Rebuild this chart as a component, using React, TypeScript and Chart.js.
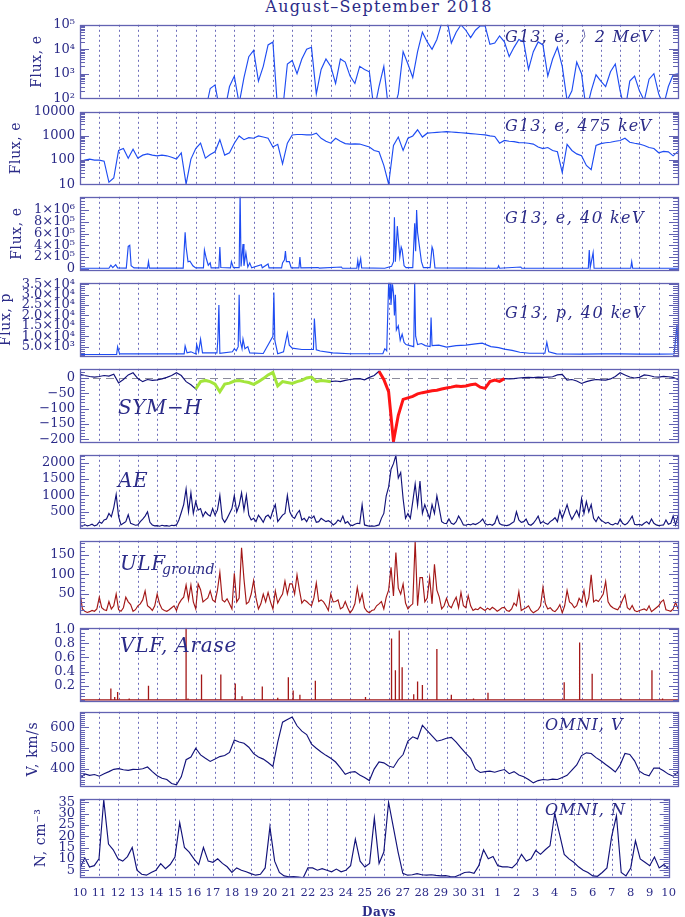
import React, { useEffect, useRef } from "react";
import { Chart, registerables } from "chart.js";

Chart.register(...registerables);

// ---------------- data ----------------
const dayLabels = ["10","11","12","13","14","15","16","17","18","19","20","21","22","23","24","25","26","27","28","29","30","31","1","2","3","4","5","6","7","8","9","10"];
const QUARTER = 0.25; // days between samples
const EIGHTH = 0.125;

// G13 electrons > 2 MeV (6-hour samples), values below 100 fall out of the panel
const mev2Flux = [
  30,30,30,30, 30,30,30,30, 30,30,30,30, 30,30,30,30, 30,30,30,30, 30,30,30,30, 30,30,30,250,
  350,30,30,300, 800,60,700,5000, 9000,500,2000,15000, 20000,30,30,2500, 3500,1000,4000,10000,
  12000,150,1500,4000, 2000,400,4000,3000, 800,400,2000,1500, 1200,30,300,2000, 30,30,150,8000,
  2500,700,8000,50000, 20000,10000,25000,120000, 200000,18000,50000,100000, 60000,30000,60000,90000,
  90000,16000,18000,35000, 20000,5000,12000,25000, 20000,1500,8000,20000, 15000,800,4000,12000,
  2000,80,200,3000, 1000,30,200,900, 500,300,1200,2500, 200,30,500,800, 200,80,600,1000,
  150,50,300,900, 1000
];
// G13 electrons 475 keV
const kev475Flux = [
  85,100,110,100, 100,90,12,18, 250,300,120,280, 120,160,180,160, 150,160,150,130, 110,200,10,110,
  300,500,120,170, 220,700,160,200, 500,1000,700,850, 800,1000,900,800, 350,450,70,500,
  1100,1150,1150,1100, 1100,1300,800,600, 500,800,600,480, 460,470,460,400, 350,250,220,60,
  10,400,900,250, 800,1000,1800,900, 1300,1350,1400,1450, 1500,1450,1400,1350, 1300,1250,1200,1150,
  1100,1000,950,500, 650,600,580,530, 520,500,460,350, 300,330,250,220, 30,450,250,180,
  150,60,40,400, 480,520,550,600, 650,800,550,500, 460,400,330,300, 200,230,220,150, 230
];
// G13 electrons 40 keV (irregular samples)
const e40Days = [0,1.5,1.6,1.7,1.85,1.95,2.4,2.5,2.58,2.65,2.8,3.5,3.55,3.6,5.35,5.45,5.5,5.6,5.7,5.85,6.0,6.4,6.45,6.55,6.65,6.75,6.8,7.2,7.25,7.3,7.8,7.85,7.95,8.25,8.3,8.35,8.45,8.5,8.6,8.7,8.8,8.9,9.4,9.45,9.75,9.8,10.45,10.5,10.6,10.65,10.7,10.85,10.95,11.35,11.4,11.45,12.35,12.4,13.55,13.6,14.35,14.4,14.45,14.55,14.6,15.8,16.15,16.25,16.3,16.35,16.45,16.5,16.58,16.65,16.7,16.8,16.9,17.25,17.35,17.4,17.45,17.5,17.6,17.7,17.8,18.15,18.25,18.3,18.4,21.65,21.7,21.75,22.85,22.9,26.35,26.4,26.45,26.6,26.65,28.55,28.6,28.65,31];
const e40Flux = [8e3,8e3,6e4,2e4,7e4,1.5e4,1e4,3.8e5,4e5,5e4,1.5e4,1e4,1.2e5,1e4,1e4,6.2e5,3.7e5,1.2e5,1.3e5,5e4,1.5e4,1.5e4,3.2e5,1.7e5,6e4,1e5,1.5e4,1.5e4,3.7e5,2e4,1.5e4,1.2e5,2e4,2e4,1.3e6,4e4,4.2e5,5e4,2.7e5,3e4,1e5,1.5e4,7e4,1.5e4,8e4,1.5e4,1.5e4,1e5,1.5e5,3e5,1.2e5,1.2e5,1.5e4,1.5e4,2e5,1.5e4,2e4,1e4,3e4,8e3,8e3,1.4e5,1.5e4,1.75e5,1.5e4,8e3,4e4,1.2e5,8.75e5,1.2e5,7.25e5,5.2e5,2e5,3.7e5,3.2e5,5e4,2e4,2e4,7.75e5,3e5,1e6,6.2e5,3.7e5,1.2e5,2e4,2e4,3.7e5,3.2e5,1.5e4,8e3,5e4,8e3,3e4,8e3,8e3,3.2e5,2e4,2.75e5,8e3,8e3,1.2e5,8e3,8e3];
// G13 protons 40 keV (irregular samples)
const p40Days = [0,1.9,1.95,2.05,5.4,5.45,5.55,5.75,6.0,6.05,6.15,6.25,6.35,7.1,7.15,7.2,7.25,7.9,8.0,8.1,8.2,8.25,8.3,8.4,8.45,8.55,8.7,8.8,9.5,10.0,10.05,10.1,10.25,10.55,10.75,10.85,11.0,11.5,12.1,12.15,12.25,12.45,13.1,14.0,15.7,15.8,15.9,16.0,16.05,16.1,16.12,16.2,16.25,16.3,16.35,16.4,16.5,16.6,16.7,16.8,16.9,17.1,17.3,17.35,17.4,17.5,17.7,17.9,18.15,18.2,18.25,18.6,19.0,19.5,20.0,20.5,20.85,21.3,21.7,22.0,22.4,22.8,23.3,24.1,24.2,24.3,24.7,26.0,27.0,28.0,29.0,30.0,30.8,30.95,31.0];
const p40Flux = [1200,1300,5000,1500,1500,5300,2000,2500,1500,6000,2500,8600,2000,2000,8800,25000,1800,2500,4000,3000,5000,30000,8000,4000,8600,4000,5000,2000,1700,10000,31000,8000,1600,2500,11500,5700,4300,3600,3600,18500,3500,2900,2000,1600,1600,4000,3000,36000,28000,36000,25000,35000,31000,20000,30000,13000,15000,8000,11000,7000,6000,5500,5000,36000,10000,6000,6500,5500,5000,19000,5500,5700,4800,5500,5700,6300,6700,5000,4500,3800,3200,2300,1800,1800,7100,2500,1500,1400,1500,1500,1400,1400,1500,15700,3000];
// SYM-H (nT), 6-hour samples
const symH = [
  12,8,5,3, 5,8,6,12, -16,-5,10,17, -2,-12,-5,-8, -6,-3,2,8, 17,8,-12,-22, -36,-12,-8,-12,
  -20,-45,-20,-17, -10,-8,-12,-15, -21,-12,-2,10, 18,-26,-12,-15, -18,-12,-8,0, 3,-12,-8,-10,
  -12,-10,-12,-8, -5,-3,-2,-6, 2,8,22,-5, -45,-207,-122,-70, -65,-60,-52,-48, -45,-42,-40,-36,
  -33,-30,-26,-28, -26,-22,-20,-30, -34,-12,-7,-11, -2,-3,-2,0, 1,2,1,3, 2,3,4,10,
  12,-7,-5,-10, -18,-12,-8,-5, -6,-7,-3,5, 17,10,3,0, 2,10,8,4, 3,5,4,2, -5
];
const symHGreenDays = [6, 13];
const symHRedDays = [15.5, 22];
// AE (nT), 3-hour samples
const aeIndex = [
  80,60,110,70,90,120,70,100, 190,150,250,280,450,350,630,1030, 360,100,150,200,410,150,120,90,
  100,200,280,370,500,180,100,70, 80,60,90,70,80,60,90,80, 100,250,480,720,1200,500,1080,450,
  810,550,600,360,500,420,370,600, 400,550,1000,300,180,300,450,600, 1000,500,700,1080,550,1000,400,250,
  300,200,400,300,180,350,400,300, 540,720,200,300,400,450,1000,500, 350,300,450,540,250,300,200,350,
  300,370,180,200,300,250,200,230, 180,100,150,250,200,370,150,200, 100,80,120,150,140,720,100,80,
  60,70,60,80,100,300,450,990, 1260,1800,1970,2220,1530,1700,900,300, 450,300,810,1350,700,1440,450,720,
  500,300,720,450,990,600,200,150, 140,280,150,120,200,370,250,100, 90,120,100,140,110,150,200,280,
  140,100,120,90,150,370,140,100, 90,80,100,150,200,500,250,180, 200,280,120,90,150,250,370,150,
  200,150,120,200,250,320,200,540, 300,500,720,450,270,400,540,350, 900,450,810,500,720,300,200,350,
  250,200,150,180,120,100,150,120, 280,150,100,150,250,370,120,100, 120,90,150,200,130,280,150,100,
  80,90,100,250,120,150,370,100, 370
];
// ULF ground index, 3-hour samples
const ulfGround = [
  54,12,6,3,5,8,6,12, 42,15,10,8,31,12,20,50, 10,6,15,42,30,23,6,10, 20,25,35,58,20,15,8,20,
  50,25,12,8,6,10,15,20, 8,25,35,42,73,35,73,30, 12,76,61,30,35,40,58,35, 30,60,105,35,30,38,25,12,
  103,30,40,168,88,25,30,50, 84,40,12,25,50,30,54,30, 12,58,27,40,50,83,50,76, 76,50,99,60,27,35,31,25,
  20,40,78,31,35,30,20,8, 50,30,31,35,12,16,31,15, 2,10,25,67,30,50,15,6, 2,8,10,20,25,31,12,42,
  60,118,45,156,65,50,76,27, 12,20,25,186,20,92,92,30, 40,92,25,126,60,42,12,20, 39,20,15,30,42,15,54,20,
  15,46,20,8,12,10,16,12, 8,14,10,16,12,6,10,15, 16,8,6,12,27,20,56,8, 12,15,20,8,2,6,10,20,
  67,25,12,15,8,5,12,23, 2,20,59,30,25,15,20,39, 30,59,20,40,99,30,35,31, 40,50,82,30,20,15,12,10,
  20,35,48,15,10,21,8,5, 8,10,12,8,20,5,10,15, 20,30,35,10,8,6,12,29, 12
];
// VLF, Arase: spike times (days) and amplitudes
const vlfDays = [1.0,1.6,1.8,1.95,2.55,3.55,5.5,5.6,6.3,7.3,8.05,8.4,9.45,10.25,10.8,11.05,11.4,12.2,14.8,16.15,16.35,16.55,16.7,17.3,17.5,17.75,18.5,19.25,20.4,21.15,25.1,25.9,26.55,28.05,29.65,30.2];
const vlfPower = [0.01,0.16,0.04,0.11,0.02,0.2,1.02,0.02,0.36,0.36,0.23,0.05,0.19,0.03,0.32,0.13,0.07,0.27,0.04,0.87,0.42,0.98,0.46,0.08,0.26,0.21,0.72,0.07,0.02,0.1,0.25,0.81,0.37,0.02,0.42,0.02];
// OMNI solar wind speed (km/s), 6-hour samples
const windV = [
  355,377,370,374, 366,378,388,399, 402,397,394,399, 398,402,410,388, 368,356,350,331, 325,363,445,458,
  500,468,452,437, 448,460,465,480, 540,530,524,505, 474,458,448,432, 413,530,625,638, 650,608,582,566,
  520,500,482,466, 452,434,406,375, 385,388,372,360, 345,400,435,430, 415,408,445,470, 535,555,545,610,
  585,560,534,540, 548,552,530,502, 475,452,400,384, 388,390,385,392, 398,378,388,372, 363,350,334,345,
  350,348,352,350, 360,370,395,420, 465,478,475,455, 440,422,405,386, 420,475,470,440, 390,375,368,405,
  405,392,376,366, 385
];
// OMNI proton density (cm^-3), 6-hour samples
const densN = [
  5.7,10.5,6.4,7, 10,36,16.5,14, 10,9,11,15, 5,3.2,2.8,4, 5,7.9,5.7,7.5, 10.8,26,15,13,
  10,7.5,15,9, 8.5,10,8,6.5, 4,6,5,4.3, 3.5,2.8,3.2,6, 24,9,4,2.5, 2.1,2.2,2,1.6,
  6,6,5,5.7, 5,4.3,5.5,4.3, 5,7,18.7,9, 6.4,8,28,8, 13,35,24,13, 3.6,2.8,3,3.5,
  3,2.8,3,2.7, 2.5,2.6,2.2,2.1, 3,4,4.2,3.6, 7,14,10,11, 7,6.5,6.5,6, 8,12,9,10,
  13.7,12,14,15.8, 30,21,12,10, 8.5,6.5,5,4, 2.5,2.3,4,6, 20,29,4,2.5, 6,18,10,8.5,
  7,10.8,6,7.5, 5.5
];

// axis tick values and labels
const mevTicks = [1e2, 1e3, 1e4, 1e5];
const mevTickLabels = ["10²", "10³", "10⁴", "10⁵"];
const kevTicks = [10, 100, 1000, 10000];
const kevTickLabels = ["10", "100", "1000", "10000"];
const e40Ticks = [0, 2e5, 4e5, 6e5, 8e5, 1e6];
const e40TickLabels = ["0", "2×10⁵", "4×10⁵", "6×10⁵", "8×10⁵", "1×10⁶"];
const p40Ticks = [5e3, 1e4, 1.5e4, 2e4, 2.5e4, 3e4, 3.5e4];
const p40TickLabels = ["5.0×10³", "1.0×10⁴", "1.5×10⁴", "2.0×10⁴", "2.5×10⁴", "3.0×10⁴", "3.5×10⁴"];
const symTicks = [0, -50, -100, -150, -200];
const symTickLabels = ["0", "−50", "−100", "−150", "−200"];
const aeTicks = [500, 1000, 1500, 2000];
const aeTickLabels = ["500", "1000", "1500", "2000"];
const ulfTicks = [50, 100, 150];
const ulfTickLabels = ["50", "100", "150"];
const vlfTicks = [0.2, 0.4, 0.6, 0.8, 1.0];
const vlfTickLabels = ["0.2", "0.4", "0.6", "0.8", "1.0"];
const vTicks = [400, 500, 600];
const vTickLabels = ["400", "500", "600"];
const nTicks = [5, 10, 15, 20, 25, 30, 35];
const nTickLabels = ["5", "10", "15", "20", "25", "30", "35"];

// ---------------- styles ----------------
const SERIF = '"DejaVu Serif", "Liberation Serif", serif';
const TEXT = "#2b2b88";
const FRAME = "#6262b2";
const DOT = "#6d6dba";
const BLUE = "#1e4cf2";
const NAVY = "#12127a";
const DARKRED = "#a31717";
const GREEN = "#a3e53c";
const RED = "#ff1414";
const PAD = 8;
const X_AXIS_H = 40;

const asGrid = (vals: number[], step: number) => vals.map((y, i) => ({ x: i * step, y }));
const asPairs = (ts: number[], vs: number[]) =>
  ts.slice(0, Math.min(ts.length, vs.length)).map((x, i) => ({ x, y: vs[i] }));
const asSpikes = (ts: number[], vs: number[]) => {
  const pts: any[] = [{ x: 0, y: 0 }];
  ts.forEach((t, i) => {
    pts.push({ x: t, y: 0 }, { x: t, y: vs[i] }, { x: t, y: 0 });
  });
  pts.push({ x: dayLabels.length - 1, y: 0 });
  return pts;
};
const within = (pts: any[], r: number[]) =>
  pts.map((p) => (p.x >= r[0] && p.x <= r[1] ? p : { x: p.x, y: null }));
const lineDs = (data: any[], color: string, width = 1.15) => ({
  data,
  borderColor: color,
  borderWidth: width,
  pointRadius: 0,
  pointHoverRadius: 0,
  fill: false,
  tension: 0,
  spanGaps: false,
});

const symPts = asGrid(symH, QUARTER);

const italic = (size: number) => `italic ${size}px ${SERIF}`;

const panels: any[] = [
  {
    top: 20, bottom: 103, yType: "logarithmic", yMin: 100, yMax: 1e5, ticks: mevTicks, labels: mevTickLabels, log: true,
    datasets: [lineDs(asGrid(mev2Flux, QUARTER), BLUE)],
    yTitle: { text: "Flux, e", x: 37 },
    texts: [{ text: "G13, e, 〉2 MeV", x: 505, dy: 17, font: italic(16), spacing: 1.2 }],
  },
  {
    top: 107, bottom: 189, yType: "logarithmic", yMin: 10, yMax: 10000, ticks: kevTicks, labels: kevTickLabels, log: true,
    datasets: [lineDs(asGrid(kev475Flux, QUARTER), BLUE)],
    yTitle: { text: "Flux, e", x: 16 },
    texts: [{ text: "G13, e, 475 keV", x: 505, dy: 19, font: italic(16), spacing: 1.2 }],
  },
  {
    top: 192, bottom: 275, yType: "linear", yMin: -25000, yMax: 1.225e6, ticks: e40Ticks, labels: e40TickLabels, minor: 5e4,
    datasets: [lineDs(asPairs(e40Days, e40Flux), BLUE)],
    yTitle: { text: "Flux, e", x: 17 },
    texts: [{ text: "G13, e, 40 keV", x: 505, dy: 26, font: italic(16), spacing: 1.5 }],
  },
  {
    top: 278, bottom: 361, yType: "linear", yMin: 400, yMax: 35700, ticks: p40Ticks, labels: p40TickLabels, minor: 1000,
    datasets: [lineDs(asPairs(p40Days, p40Flux), BLUE)],
    yTitle: { text: "Flux, p", x: 6 },
    texts: [{ text: "G13, p, 40 keV", x: 505, dy: 35, font: italic(16), spacing: 1.5 }],
  },
  {
    top: 364, bottom: 447, yType: "linear", yMin: -210, yMax: 30, ticks: symTicks, labels: symTickLabels, minor: 10, zeroLine: true,
    datasets: [
      lineDs(within(symPts, symHGreenDays), GREEN, 3),
      lineDs(within(symPts, symHRedDays), RED, 3),
      lineDs(symPts, NAVY),
    ],
    texts: [{ text: "SYM−H", x: 118, dy: 45, font: italic(20), spacing: 0.5 }],
  },
  {
    top: 450, bottom: 533, yType: "linear", yMin: 0, yMax: 2240, ticks: aeTicks, labels: aeTickLabels, minor: 100,
    datasets: [lineDs(asGrid(aeIndex, EIGHTH), NAVY)],
    texts: [{ text: "AE", x: 118, dy: 32, font: italic(20), spacing: 0.5 }],
  },
  {
    top: 536, bottom: 619, yType: "linear", yMin: -1.5, yMax: 186, ticks: ulfTicks, labels: ulfTickLabels, minor: 10,
    datasets: [lineDs(asGrid(ulfGround, EIGHTH), DARKRED)],
    texts: [
      { text: "ULF", x: 120, dy: 29, font: italic(20), spacing: 0.5 },
      { text: "ground", x: 162, dy: 33, font: italic(14), spacing: 0.3 },
    ],
  },
  {
    top: 623, bottom: 706, yType: "linear", yMin: -0.02, yMax: 1.02, ticks: vlfTicks, labels: vlfTickLabels, minor: 0.05,
    datasets: [lineDs(asSpikes(vlfDays, vlfPower), DARKRED, 1.3)],
    texts: [{ text: "VLF, Arase", x: 120, dy: 24, font: italic(20), spacing: 0.8 }],
  },
  {
    top: 707, bottom: 791, yType: "linear", yMin: 318, yMax: 675, ticks: vTicks, labels: vTickLabels, minor: 10,
    datasets: [lineDs(asGrid(windV, QUARTER), NAVY)],
    yTitle: { text: "V, km/s", x: 33 },
    texts: [{ text: "OMNI, V", x: 545, dy: 18, font: italic(16), spacing: 1 }],
  },
  {
    top: 794, bottom: 877, yType: "linear", yMin: 2, yMax: 36.5, ticks: nTicks, labels: nTickLabels, minor: 1,
    datasets: [lineDs(asGrid(densN, QUARTER), NAVY)],
    yTitle: { text: "N, cm⁻³", x: 41 },
    texts: [
      { text: "OMNI, N", x: 545, dy: 16, font: italic(16), spacing: 1 },
      { text: "Days", x: 379, dy: 117, font: `bold 12px ${SERIF}`, spacing: 0.5, align: "center" },
    ],
  },
];

const panelDeco = {
  id: "panelDeco",
  beforeDatasetsDraw(chart: any, _args: any, o: any) {
    const { ctx, chartArea: a } = chart;
    const xs = chart.scales.x;
    const ys = chart.scales.y;
    ctx.save();
    ctx.lineWidth = 1;
    ctx.strokeStyle = DOT;
    ctx.setLineDash([2, 3]);
    ctx.beginPath();
    for (let d = 1; d < dayLabels.length - 1; d++) {
      const x = Math.round(xs.getPixelForValue(d)) + 0.5;
      ctx.moveTo(x, a.top);
      ctx.lineTo(x, a.bottom);
    }
    ctx.stroke();
    if (o.zeroLine) {
      ctx.strokeStyle = "#8c8c9c";
      ctx.setLineDash([8, 5]);
      const y = Math.round(ys.getPixelForValue(0)) + 0.5;
      ctx.beginPath();
      ctx.moveTo(a.left, y);
      ctx.lineTo(a.right, y);
      ctx.stroke();
    }
    ctx.restore();
  },
  afterDraw(chart: any, _args: any, o: any) {
    const { ctx, chartArea: a } = chart;
    const ys = chart.scales.y;
    ctx.save();
    const marks: { v: number; major: boolean }[] = [];
    const min = ys.min, max = ys.max;
    if (o.log) {
      for (let e = Math.floor(Math.log10(min)); e <= Math.ceil(Math.log10(max)); e++) {
        for (let k = 1; k < 10; k++) {
          const v = k * Math.pow(10, e);
          if (v >= min * 0.999 && v <= max * 1.001) marks.push({ v, major: k === 1 });
        }
      }
    } else {
      const s = o.minor;
      for (let v = Math.ceil(min / s) * s; v <= max + s * 1e-6; v += s) {
        marks.push({ v, major: o.majors.some((m: number) => Math.abs(m - v) < s / 10) });
      }
    }
    ctx.strokeStyle = FRAME;
    ctx.lineWidth = 1;
    ctx.beginPath();
    marks.forEach(({ v, major }) => {
      const y = Math.round(ys.getPixelForValue(v)) + 0.5;
      const len = major ? 9 : 5;
      ctx.moveTo(a.left, y);
      ctx.lineTo(a.left + len, y);
      ctx.moveTo(a.right, y);
      ctx.lineTo(a.right - len, y);
    });
    ctx.stroke();
    ctx.lineWidth = 1.3;
    ctx.strokeRect(Math.round(a.left) + 0.5, Math.round(a.top) + 0.5, Math.round(a.right - a.left), Math.round(a.bottom - a.top));
    ctx.fillStyle = TEXT;
    ctx.textBaseline = "alphabetic";
    (o.texts || []).forEach((t: any) => {
      ctx.font = t.font;
      (ctx as any).letterSpacing = `${t.spacing || 0}px`;
      ctx.textAlign = t.align || "left";
      ctx.fillText(t.text, t.x, a.top + t.dy);
    });
    (ctx as any).letterSpacing = "0px";
    if (o.yTitle) {
      ctx.font = `14px ${SERIF}`;
      (ctx as any).letterSpacing = "0.6px";
      ctx.translate(o.yTitle.x, (a.top + a.bottom) / 2);
      ctx.rotate(-Math.PI / 2);
      ctx.textAlign = "center";
      ctx.textBaseline = "middle";
      ctx.fillText(o.yTitle.text, 0, 0);
    }
    ctx.restore();
  },
};

function makeConfig(p: any, isLast: boolean) {
  const labelMap = new Map<number, string>(p.ticks.map((v: number, i: number) => [v, p.labels[i]]));
  return {
    type: "line",
    data: { datasets: p.datasets },
    options: {
      responsive: false,
      animation: false,
      events: [],
      layout: { padding: { top: PAD, bottom: isLast ? 0 : PAD, left: 0, right: 7 } },
      plugins: {
        legend: { display: false },
        tooltip: { enabled: false },
        title: { display: false },
        panelDeco: {
          log: !!p.log,
          minor: p.minor,
          majors: p.ticks,
          zeroLine: !!p.zeroLine,
          texts: p.texts,
          yTitle: p.yTitle,
        },
      },
      scales: {
        x: {
          type: "linear",
          min: 0,
          max: dayLabels.length - 1,
          display: isLast,
          grid: { display: false, drawTicks: false },
          border: { display: false },
          afterBuildTicks: (s: any) => {
            s.ticks = dayLabels.map((_, i) => ({ value: i }));
          },
          afterFit: isLast
            ? (s: any) => {
                s.height = X_AXIS_H;
              }
            : undefined,
          ticks: {
            autoSkip: false,
            maxRotation: 0,
            minRotation: 0,
            padding: 9,
            color: TEXT,
            font: { family: SERIF, size: 11.5 },
            callback: (v: any) => dayLabels[Math.round(Number(v))] ?? "",
          },
        },
        y: {
          type: p.yType,
          min: p.yMin,
          max: p.yMax,
          grid: { display: false, drawTicks: false },
          border: { display: false },
          afterFit: (s: any) => {
            s.width = 80;
          },
          afterBuildTicks: (s: any) => {
            s.ticks = p.ticks.map((v: number) => ({ value: v }));
          },
          ticks: {
            autoSkip: false,
            padding: 5,
            color: TEXT,
            font: { family: SERIF, size: 13 },
            callback: (v: any) => labelMap.get(Number(v)) ?? "",
          },
        },
      },
    },
    plugins: [panelDeco],
  } as any;
}

export default function App() {
  const refs = useRef<(HTMLCanvasElement | null)[]>([]);

  useEffect(() => {
    const charts = panels.map((p, i) => {
      const el = refs.current[i]!;
      return new Chart(el, makeConfig(p, i === panels.length - 1));
    });
    return () => charts.forEach((c) => c.destroy());
  }, []);

  return (
    <div
      style={{
        position: "fixed",
        left: 0,
        top: 0,
        width: 685,
        height: 917,
        background: "#ffffff",
        overflow: "hidden",
      }}
    >
      <div
        style={{
          position: "absolute",
          left: 80,
          width: 598,
          top: -2,
          textAlign: "center",
          fontFamily: SERIF,
          fontSize: 16,
          lineHeight: "18px",
          letterSpacing: "1.3px",
          color: TEXT,
        }}
      >
        August–September 2018
      </div>
      {panels.map((p, i) => {
        const isLast = i === panels.length - 1;
        const h = p.bottom - p.top + PAD + (isLast ? X_AXIS_H : PAD);
        return (
          <canvas
            key={i}
            ref={(el) => {
              refs.current[i] = el;
            }}
            width={685}
            height={h}
            style={{ position: "absolute", left: 0, top: p.top - PAD, width: 685, height: h }}
          />
        );
      })}
    </div>
  );
}
